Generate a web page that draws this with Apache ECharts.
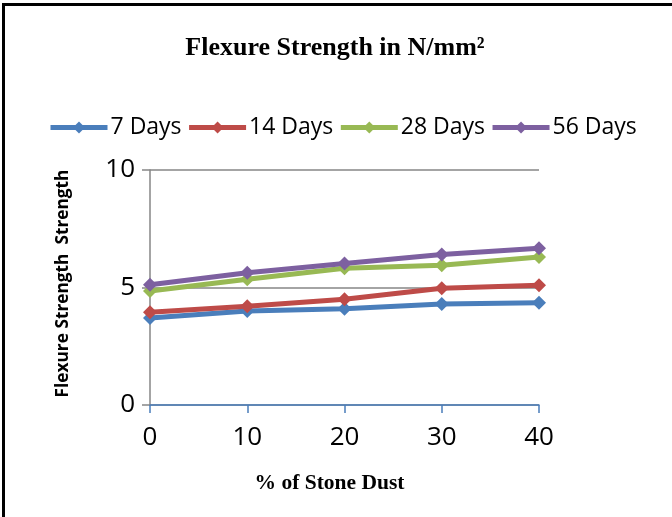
<!DOCTYPE html>
<html>
<head>
<meta charset="utf-8">
<script src="https://cdn.jsdelivr.net/npm/echarts@6/dist/echarts.min.js"></script>
<style>
html,body{margin:0;padding:0;background:#fff;}
#wrap{position:absolute;left:0;top:0;width:672px;height:517px;}
#border{position:absolute;left:2px;top:3px;width:680px;height:530px;border-left:3px solid #000;border-top:3px solid #000;box-sizing:border-box;pointer-events:none;}
#chart{position:absolute;left:0;top:0;width:672px;height:517px;}
</style>
</head>
<body>
<div id="wrap"><div id="chart"></div><div id="border"></div></div>
<script>
const categories = ['0', '10', '20', '30', '40'];
const days7 = [3.7, 4.0, 4.1, 4.3, 4.35];
const days14 = [3.95, 4.2, 4.5, 4.97, 5.1];
const days28 = [4.85, 5.35, 5.82, 5.95, 6.3];
const days56 = [5.12, 5.63, 6.02, 6.4, 6.67];
const seriesNames = ['7 Days', '14 Days', '28 Days', '56 Days'];
const colors = ['#4A7EBB', '#BE4B48', '#98B954', '#7D60A0'];

const chart = echarts.init(document.getElementById('chart'), null, {renderer: 'canvas'});
const data = [days7, days14, days28, days56];
chart.setOption({
  animation: false,
  backgroundColor: '#fff',
  color: colors,
  title: {
    text: 'Flexure Strength in N/mm²',
    left: 330, top: 30, textAlign: 'center',
    textStyle: {fontFamily: 'Liberation Serif', fontWeight: 'bold', fontSize: 26, color: '#000'}
  },
  legend: {
    left: 43, top: 111, itemWidth: 57, itemHeight: 15, itemGap: 5,
    lineStyle: {width: 5},
    textStyle: {fontFamily: 'Open Sans', fontSize: 23, color: '#000', padding: [0,0,0,-2]},
    data: seriesNames
  },
  grid: {left: 150, right: 133, top: 170, bottom: 112},
  xAxis: {
    type: 'category', data: categories, boundaryGap: false,
    name: '% of Stone Dust', nameLocation: 'middle', nameGap: 67,
    nameTextStyle: {fontFamily: 'Liberation Serif', fontWeight: 'bold', fontSize: 21.5, color: '#000', padding: [0, 30, 0, 0]},
    axisLine: {lineStyle: {color: '#4A7EBB', width: 1.5}},
    axisTick: {show: true, length: 8, lineStyle: {color: '#4A7EBB', width: 1.5}},
    axisLabel: {fontFamily: 'Open Sans', fontSize: 26, color: '#000', margin: 20}
  },
  yAxis: {
    type: 'value', min: 0, max: 10, interval: 5,
    name: 'Flexure Strength  Strength', nameLocation: 'middle', nameGap: 78,
    nameTextStyle: {fontFamily: 'Open Sans', fontWeight: 'bold', fontSize: 17.3, color: '#000', padding: [0, 0, 0, 8]},
    axisLine: {show: true, lineStyle: {color: '#868686', width: 1.5}},
    axisTick: {show: true, length: 8, lineStyle: {color: '#868686', width: 1.5}},
    axisLabel: {fontFamily: 'Open Sans', fontSize: 26, color: '#000', margin: 15},
    splitLine: {show: true, lineStyle: {color: '#868686', width: 1.5}}
  },
  series: data.map((d, i) => ({
    name: seriesNames[i], type: 'line', data: d,
    symbol: 'diamond', symbolSize: 14,
    lineStyle: {width: 5, color: colors[i]},
    itemStyle: {color: colors[i]}
  }))
});
</script>
</body>
</html>
